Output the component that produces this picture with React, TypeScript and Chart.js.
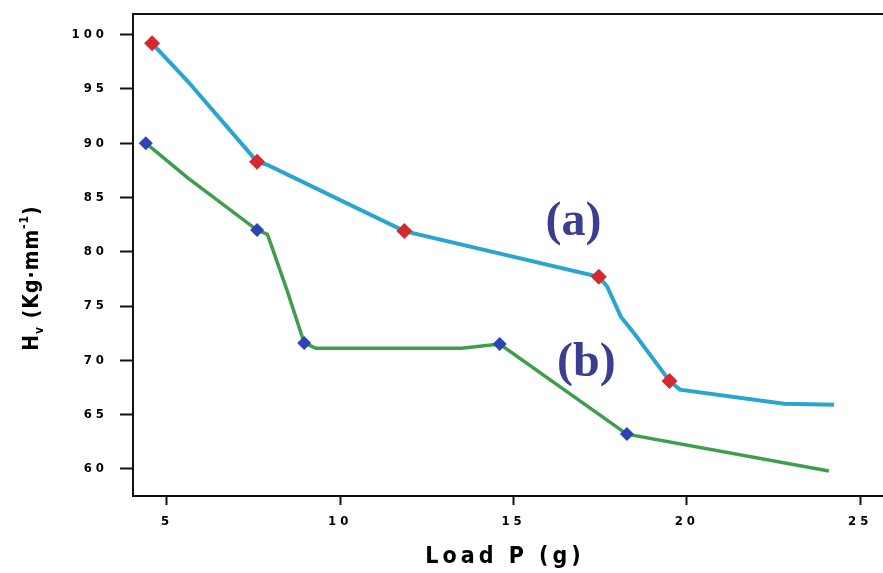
import React, { useEffect, useRef } from "react";
import { Chart, registerables } from "chart.js";

Chart.register(...registerables);

// Series (a): cyan line, red diamond markers
const loadA = [4.57, 5.6, 7.6, 7.9, 11.85, 17.46, 17.7, 18.1, 18.5, 19.5, 19.8, 22.8, 24.25];
const hvA = [99.2, 95.7, 88.3, 88.0, 81.9, 77.7, 76.8, 74.0, 72.4, 68.1, 67.3, 66.0, 65.9];
const markA = [1, 0, 1, 0, 1, 1, 0, 0, 0, 1, 0, 0, 0];

// Series (b): green line, blue diamond markers
const loadB = [4.39, 5.6, 7.6, 7.9, 8.47, 8.96, 9.3, 13.5, 14.6, 18.27, 24.1];
const hvB = [90.0, 86.8, 82.0, 81.6, 76.4, 71.6, 71.1, 71.1, 71.5, 63.2, 59.8];
const markB = [1, 0, 1, 0, 0, 1, 0, 0, 1, 1, 0];

const xTicks = [5, 10, 15, 20, 25];
const yTicks = [60, 65, 70, 75, 80, 85, 90, 95, 100];

const curveLabels = ["(a)", "(b)"];
const curveLabelX = [16.73, 17.1];
const curveLabelY = [82.7, 69.7];

const xTitle = "Load P (g)";

export default function App() {
  const ref = useRef<HTMLCanvasElement>(null);
  useEffect(() => {
    document.body.style.margin = "0";
    const canvas = ref.current!;
    const annotate = {
      id: "annotate",
      beforeDraw(chart: any) {
        const ctx = chart.ctx;
        ctx.save();
        ctx.fillStyle = "#ffffff";
        ctx.fillRect(0, 0, chart.width, chart.height);
        ctx.restore();
        (ctx as any).letterSpacing = "4px";
      },
      afterDraw(chart: any) {
        const ctx = chart.ctx;
        (ctx as any).letterSpacing = "0px";
        const a = chart.chartArea;
        const xs = chart.scales.x;
        const ys = chart.scales.y;
        ctx.save();
        // top border
        ctx.strokeStyle = "#111";
        ctx.lineWidth = 2;
        ctx.beginPath();
        ctx.moveTo(a.left - 1, a.top);
        ctx.lineTo(a.right, a.top);
        ctx.stroke();
        // curve labels
        ctx.fillStyle = "#3b3e8e";
        ctx.font = "bold 48px 'Liberation Serif'";
        ctx.textAlign = "center";
        ctx.textBaseline = "middle";
        for (let i = 0; i < curveLabels.length; i++) {
          ctx.fillText(curveLabels[i], xs.getPixelForValue(curveLabelX[i]), ys.getPixelForValue(curveLabelY[i]));
        }
        // x title
        ctx.fillStyle = "#000";
        ctx.font = "bold 23px 'DejaVu Sans Condensed'";
        (ctx as any).letterSpacing = "4px";
        ctx.fillText(xTitle, 505, 557);
        (ctx as any).letterSpacing = "1px";
        // y title (rotated) with sub/superscripts
        ctx.translate(30, 278);
        ctx.rotate(-Math.PI / 2);
        ctx.textAlign = "left";
        ctx.textBaseline = "alphabetic";
        const parts: [string, number, number][] = [
          ["H", 21, 0],
          ["v", 12, 5],
          [" (Kg\u00b7mm", 21, 0],
          ["-1", 12, -10],
          [")", 21, 0],
        ];
        let w = 0;
        for (const p of parts) {
          ctx.font = `bold ${p[1]}px 'DejaVu Sans Condensed'`;
          w += ctx.measureText(p[0]).width;
        }
        let x = -w / 2;
        for (const p of parts) {
          ctx.font = `bold ${p[1]}px 'DejaVu Sans Condensed'`;
          ctx.fillText(p[0], x, 8 + p[2]);
          x += ctx.measureText(p[0]).width;
        }
        ctx.restore();
        (ctx as any).letterSpacing = "0px";
      },
    };
    const chart = new Chart(canvas, {
      type: "scatter",
      data: {
        datasets: [
          {
            data: loadA.map((v, i) => ({ x: v, y: hvA[i] })),
            showLine: true,
            borderColor: "#2ba4cf",
            borderWidth: 4,
            pointStyle: "rectRot",
            pointRadius: markA.map((m) => (m ? 8 : 0)),
            pointBackgroundColor: "#d42a2e",
            pointBorderColor: "#d42a2e",
            pointBorderWidth: 0,
          },
          {
            data: loadB.map((v, i) => ({ x: v, y: hvB[i] })),
            showLine: true,
            borderColor: "#3e9e4c",
            borderWidth: 3.5,
            pointStyle: "rectRot",
            pointRadius: markB.map((m) => (m ? 7 : 0)),
            pointBackgroundColor: "#2b44b6",
            pointBorderColor: "#2b44b6",
            pointBorderWidth: 0,
          },
        ],
      },
      options: {
        animation: false,
        responsive: false,
        layout: { autoPadding: false, padding: { top: 14, right: 0, left: 0, bottom: 0 } },
        plugins: { legend: { display: false }, tooltip: { enabled: false } },
        scales: {
          x: {
            type: "linear",
            min: 4.02,
            max: 25.66,
            afterBuildTicks: (s: any) => {
              s.ticks = xTicks.map((v) => ({ value: v }));
            },
            afterFit: (s: any) => {
              s.height = 77;
              s.paddingLeft = 0;
              s.paddingRight = 0;
            },
            grid: { drawOnChartArea: false, tickLength: 9, tickColor: "#111", tickWidth: 2 },
            border: { color: "#111", width: 2 },
            ticks: {
              color: "#000",
              padding: 9,
              maxRotation: 0,
              autoSkip: false,
              font: { family: "'DejaVu Sans Condensed'", weight: "bold", size: 13 },
            },
          },
          y: {
            type: "linear",
            min: 57.5,
            max: 101.9,
            afterBuildTicks: (s: any) => {
              s.ticks = yTicks.map((v) => ({ value: v }));
            },
            afterFit: (s: any) => {
              s.width = 133;
              s.paddingTop = 0;
              s.paddingBottom = 0;
            },
            grid: { drawOnChartArea: false, tickLength: 13, tickColor: "#111", tickWidth: 2 },
            border: { color: "#111", width: 2 },
            ticks: {
              color: "#000",
              padding: 12,
              autoSkip: false,
              font: { family: "'DejaVu Sans Condensed'", weight: "bold", size: 13 },
            },
          },
        },
      },
      plugins: [annotate],
    } as any);
    return () => chart.destroy();
  }, []);
  return (
    <div style={{ width: 883, height: 573 }}>
      <canvas ref={ref} width={883} height={573} style={{ display: "block" }} />
    </div>
  );
}
